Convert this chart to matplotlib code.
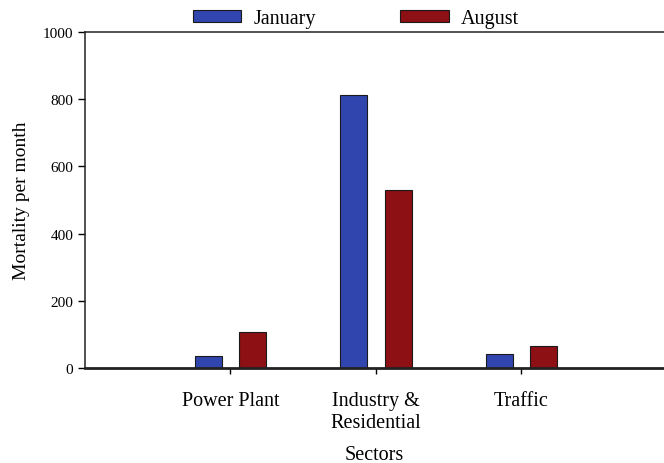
import numpy as np
import matplotlib
matplotlib.use("Agg")
import matplotlib.pyplot as plt

sectors = ["Power Plant", "Industry &\nResidential", "Traffic"]
january = [36, 812, 40]
august = [107, 530, 65]

plt.rcParams["font.family"] = ["Liberation Serif", "DejaVu Serif"]

fig = plt.figure(figsize=(6.64, 4.64), dpi=100)
ax = fig.add_axes([0.128, 0.205, 0.872, 0.724])

x = np.arange(1, len(sectors) + 1)
w = 0.185
off = 0.152
ax.bar(x - off, january, width=w, color="#3145ae", edgecolor="#1a1a1a",
       linewidth=0.8, label="January")
ax.bar(x + off, august, width=w, color="#8c1014", edgecolor="#1a1a1a",
       linewidth=0.8, label="August")

ax.set_xlim(0, 3.98)
ax.set_ylim(0, 1000)
ax.set_yticks([0, 200, 400, 600, 800, 1000])
ax.set_xticks(x)
ax.set_xticklabels(sectors, fontsize=14.5, linespacing=1.15)
ax.tick_params(axis="y", labelsize=11, length=5, width=1, direction="out")
ax.tick_params(axis="x", length=4, width=1, direction="out", pad=13)

ax.spines["right"].set_visible(False)
ax.spines["left"].set_linewidth(1.1)
ax.spines["top"].set_linewidth(1.1)
ax.spines["bottom"].set_linewidth(2.0)
for s in ax.spines.values():
    s.set_color("#222222")

ax.set_ylabel("Mortality per month", fontsize=14, labelpad=9)
ax.set_xlabel("Sectors", fontsize=14.5, labelpad=10)

ax.legend(loc="lower center", bbox_to_anchor=(0.468, 0.988), ncol=2, frameon=False,
          fontsize=14.5, handlelength=2.4, handleheight=0.55, columnspacing=4.2,
          handletextpad=0.6, borderaxespad=0.0)

fig.savefig("out.png", dpi=100)
